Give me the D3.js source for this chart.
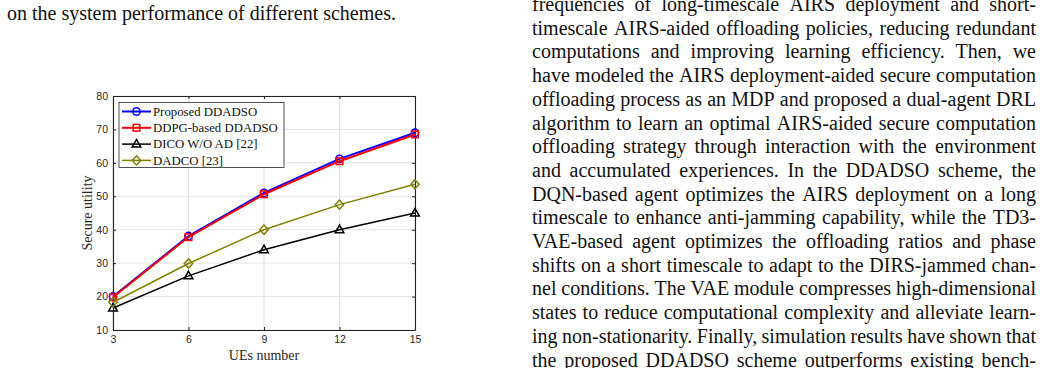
<!DOCTYPE html>
<html>
<head>
<meta charset="utf-8">
<script src="https://cdn.jsdelivr.net/npm/d3@7"></script>
<style>
  html, body { margin: 0; padding: 0; background: #fff; }
  svg { display: block; }
</style>
</head>
<body>
<svg id="page" width="1040" height="368"></svg>
<script>
// ---------------- DATA ----------------
const ueNumbers = [3, 6, 9, 12, 15];
const proposedDDADSO = [20, 38.1, 51, 61.2, 69];
const ddpgDDADSO = [19.8, 37.8, 50.6, 60.5, 68.5];
const dicoWoAD = [16.6, 26.2, 34, 40, 45];
const dadco = [18.3, 29.9, 40, 47.5, 53.6];
const xTickValues = [3, 6, 9, 12, 15];
const yTickValues = [10, 20, 30, 40, 50, 60, 70, 80];
const seriesNames = ["Proposed DDADSO", "DDPG-based DDADSO", "DICO W/O AD [22]", "DADCO [23]"];
const xAxisTitle = "UEs number";
const yAxisTitle = "Secure utility";

const leftColumnText = ["on the system performance of different schemes."];
const rightColumnText = [
  "frequencies of long-timescale AIRS deployment and short-",
  "timescale AIRS-aided offloading policies, reducing redundant",
  "computations and improving learning efficiency. Then, we",
  "have modeled the AIRS deployment-aided secure computation",
  "offloading process as an MDP and proposed a dual-agent DRL",
  "algorithm to learn an optimal AIRS-aided secure computation",
  "offloading strategy through interaction with the environment",
  "and accumulated experiences. In the DDADSO scheme, the",
  "DQN-based agent optimizes the AIRS deployment on a long",
  "timescale to enhance anti-jamming capability, while the TD3-",
  "VAE-based agent optimizes the offloading ratios and phase",
  "shifts on a short timescale to adapt to the DIRS-jammed chan-",
  "nel conditions. The VAE module compresses high-dimensional",
  "states to reduce computational complexity and alleviate learn-",
  "ing non-stationarity. Finally, simulation results have shown that",
  "the proposed DDADSO scheme outperforms existing bench-"
];

// ---------------- LAYOUT ----------------
const svg = d3.select("#page");
const serif = "'Liberation Serif', 'Times New Roman', serif";
const sans = "'Liberation Sans', Arial, sans-serif";

// body text
const bodySize = 20, lead = 23.7;
svg.append("g").selectAll("text").data(leftColumnText).join("text")
  .attr("x", 7).attr("y", (d, i) => 20 + i * lead)
  .attr("font-family", serif).attr("font-size", bodySize).attr("fill", "#111")
  .text(d => d);

const colX = 532, colW = 504;
const rc = svg.append("g");
rightColumnText.forEach((line, i) => {
  const words = line.split(" ");
  const y = 11 + i * lead;
  const nodes = words.map(w => rc.append("text").attr("y", y)
    .attr("font-family", serif).attr("font-size", bodySize).attr("fill", "#111").text(w));
  const widths = nodes.map(n => n.node().getComputedTextLength());
  const total = d3.sum(widths);
  const gap = words.length > 1 ? (colW - total) / (words.length - 1) : 0;
  let x = colX;
  nodes.forEach((n, k) => { n.attr("x", x); x += widths[k] + gap; });
});

// ---------------- CHART ----------------
const plot = { left: 113, right: 415, top: 96, bottom: 330 };
const x = d3.scaleLinear().domain([3, 15]).range([plot.left, plot.right]);
const y = d3.scaleLinear().domain([10, 80]).range([plot.bottom, plot.top]);

const chart = svg.append("g");

// grid
chart.append("g").selectAll("line").data(xTickValues).join("line")
  .attr("x1", d => x(d)).attr("x2", d => x(d)).attr("y1", plot.top).attr("y2", plot.bottom)
  .attr("stroke", "#e3e3e3").attr("stroke-width", 1);
chart.append("g").selectAll("line").data(yTickValues).join("line")
  .attr("y1", d => y(d)).attr("y2", d => y(d)).attr("x1", plot.left).attr("x2", plot.right)
  .attr("stroke", "#e3e3e3").attr("stroke-width", 1);

// axes (ticks inward)
const tickLen = 3;
const axB = chart.append("g").attr("transform", `translate(0,${plot.bottom})`)
  .call(d3.axisBottom(x).tickValues(xTickValues).tickSizeInner(-tickLen).tickSizeOuter(0).tickPadding(6));
const axL = chart.append("g").attr("transform", `translate(${plot.left},0)`)
  .call(d3.axisLeft(y).tickValues(yTickValues).tickSizeInner(-tickLen).tickSizeOuter(0).tickPadding(5));
const axT = chart.append("g").attr("transform", `translate(0,${plot.top})`)
  .call(d3.axisTop(x).tickValues(xTickValues).tickSizeInner(-tickLen).tickSizeOuter(0).tickFormat(""));
const axR = chart.append("g").attr("transform", `translate(${plot.right},0)`)
  .call(d3.axisRight(y).tickValues(yTickValues).tickSizeInner(-tickLen).tickSizeOuter(0).tickFormat(""));
[axB, axL, axT, axR].forEach(a => {
  a.select(".domain").attr("stroke", "#222").attr("stroke-width", 1.1);
  a.selectAll(".tick line").attr("stroke", "#222").attr("stroke-width", 1);
  a.selectAll(".tick text").attr("font-family", sans).attr("font-size", 10.5).attr("fill", "#262626");
});

// axis titles
chart.append("text").attr("x", (plot.left + plot.right) / 2).attr("y", 360)
  .attr("text-anchor", "middle").attr("font-family", serif).attr("font-size", 14).attr("fill", "#262626")
  .text(xAxisTitle);
chart.append("text").attr("transform", `translate(92,${(plot.top + plot.bottom) / 2}) rotate(-90)`)
  .attr("text-anchor", "middle").attr("font-family", serif).attr("font-size", 14).attr("fill", "#262626")
  .text(yAxisTitle);

// series
const seriesValues = [proposedDDADSO, ddpgDDADSO, dicoWoAD, dadco];
const seriesColors = ["#0000ff", "#ff0000", "#000000", "#808000"];
const seriesWidths = [2, 2, 1.5, 1.5];
const seriesMarkers = ["circle", "square", "triangle", "diamond"];

function drawMarker(g, type, cx, cy, color) {
  if (type === "circle") {
    g.append("circle").attr("cx", cx).attr("cy", cy).attr("r", 3.7)
      .attr("fill", "none").attr("stroke", color).attr("stroke-width", 1.5);
  } else if (type === "square") {
    g.append("rect").attr("x", cx - 3.3).attr("y", cy - 3.3).attr("width", 6.6).attr("height", 6.6)
      .attr("fill", "none").attr("stroke", color).attr("stroke-width", 1.5);
  } else if (type === "triangle") {
    g.append("path").attr("d", `M${cx},${cy - 4.6}L${cx + 4.3},${cy + 3}L${cx - 4.3},${cy + 3}Z`)
      .attr("fill", "none").attr("stroke", color).attr("stroke-width", 1.5);
  } else {
    g.append("path").attr("d", `M${cx},${cy - 4.6}L${cx + 4.2},${cy}L${cx},${cy + 4.6}L${cx - 4.2},${cy}Z`)
      .attr("fill", "none").attr("stroke", color).attr("stroke-width", 1.5);
  }
}

const line = d3.line().x((d, i) => x(ueNumbers[i])).y(d => y(d));
[0, 1, 2, 3].forEach(s => {
  const g = chart.append("g");
  g.append("path").datum(seriesValues[s]).attr("d", line)
    .attr("fill", "none").attr("stroke", seriesColors[s]).attr("stroke-width", seriesWidths[s])
    .attr("stroke-linejoin", "round");
  seriesValues[s].forEach((v, i) => drawMarker(g, seriesMarkers[s], x(ueNumbers[i]), y(v), seriesColors[s]));
});

// legend
const leg = chart.append("g");
leg.append("rect").attr("x", 119).attr("y", 102.5).attr("width", 165).attr("height", 65)
  .attr("fill", "#fff").attr("stroke", "#262626").attr("stroke-width", 0.8);
seriesNames.forEach((name, i) => {
  const cy = 111.5 + i * 16.3;
  leg.append("line").attr("x1", 122).attr("x2", 151).attr("y1", cy).attr("y2", cy)
    .attr("stroke", seriesColors[i]).attr("stroke-width", seriesWidths[i]);
  drawMarker(leg, seriesMarkers[i], 136.5, cy, seriesColors[i]);
  leg.append("text").attr("x", 153).attr("y", cy + 4.3)
    .attr("font-family", serif).attr("font-size", 12.8).attr("fill", "#111").text(name);
});
</script>
</body>
</html>
